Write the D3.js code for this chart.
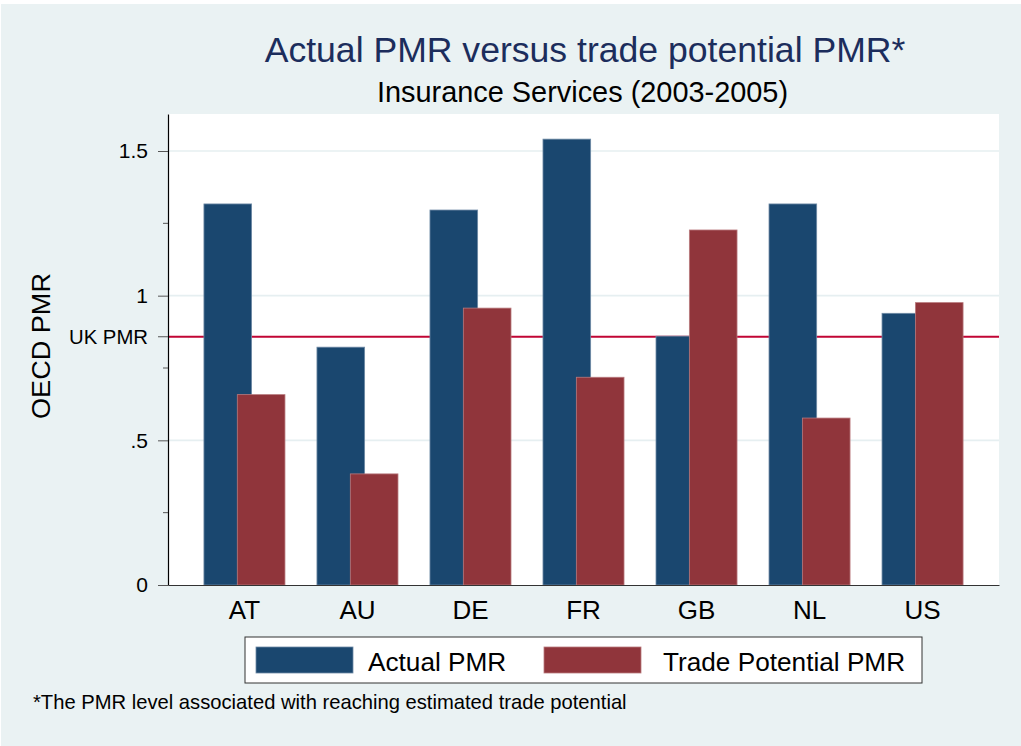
<!DOCTYPE html>
<html>
<head>
<meta charset="utf-8">
<script src="https://cdn.jsdelivr.net/npm/d3@7"></script>
<style>
  body { margin: 0; background: #fff; }
  svg { display: block; font-family: "Liberation Sans", Arial, sans-serif; }
</style>
</head>
<body>
<script>
// Data
const countries = ["AT", "AU", "DE", "FR", "GB", "NL", "US"];
const actualPMR = [1.317, 0.822, 1.296, 1.541, 0.860, 1.317, 0.939];
const tradePotentialPMR = [0.658, 0.384, 0.957, 0.718, 1.227, 0.577, 0.976];
const ukPMR = 0.858;
const seriesNames = ["Actual PMR", "Trade Potential PMR"];
const yTickValues = [0, 0.5, 1, 1.5];
const yTickLabels = ["0", ".5", "1", "1.5"];
const yMinorTicks = [0.25, 0.75, 1.25];

const W = 1021, H = 746;
const plot = { left: 168, right: 999, top: 114, bottom: 585 };
const colors = ["#1a476f", "#90353b"];

const svg = d3.select("body").append("svg")
    .attr("width", W)
    .attr("height", H);

// outer background
svg.append("rect")
    .attr("x", 1).attr("y", 4)
    .attr("width", W - 1).attr("height", H - 4)
    .attr("fill", "#eaf2f3");

// plot region
svg.append("rect")
    .attr("x", plot.left).attr("y", plot.top)
    .attr("width", plot.right - plot.left)
    .attr("height", plot.bottom - plot.top)
    .attr("fill", "#fff");

// scales
const x = d3.scaleBand()
    .domain(countries)
    .range([plot.left, plot.right])
    .paddingInner(0.283)
    .paddingOuter(0.318);

const yMax = 1.5 * (plot.bottom - plot.top) / 434;
const y = d3.scaleLinear()
    .domain([0, yMax])
    .range([plot.bottom, plot.top]);

// gridlines
svg.append("g")
  .selectAll("line")
  .data(yTickValues.filter(d => d > 0))
  .enter().append("line")
    .attr("x1", plot.left).attr("x2", plot.right)
    .attr("y1", d => y(d)).attr("y2", d => y(d))
    .attr("stroke", "#e6eff1")
    .attr("stroke-width", 1.6);

// UK PMR reference line (behind bars)
svg.append("line")
    .attr("x1", plot.left).attr("x2", plot.right)
    .attr("y1", y(ukPMR)).attr("y2", y(ukPMR))
    .attr("stroke", "#c10534")
    .attr("stroke-width", 2);

// bars: two overlapping bars per country (bargap -30%)
const barW = x.bandwidth() / 1.7;
const series = [actualPMR, tradePotentialPMR];
const strokes = ["#6f8aa5", "#b97a7e"];

series.forEach((vals, s) => {
  svg.append("g")
    .selectAll("rect")
    .data(countries.map((c, i) => ({ c, v: vals[i] })))
    .enter().append("rect")
      .attr("x", d => x(d.c) + s * 0.7 * barW)
      .attr("y", d => y(d.v))
      .attr("width", barW)
      .attr("height", d => y(0) - y(d.v))
      .attr("fill", colors[s])
      .attr("stroke", strokes[s])
      .attr("stroke-width", 0.8);
});

// y axis
const yAxis = svg.append("g")
    .attr("transform", `translate(${plot.left},0)`)
    .call(d3.axisLeft(y)
      .tickValues(yTickValues)
      .tickFormat((d, i) => yTickLabels[i])
      .tickSize(10)
      .tickPadding(10)
      .tickSizeOuter(0));
yAxis.select(".domain").attr("stroke", "#000").attr("stroke-width", 1.2);
yAxis.selectAll(".tick line").attr("stroke", "#555");
yAxis.selectAll("text")
    .attr("font-size", 21)
    .attr("fill", "#000");

// minor ticks
svg.append("g")
  .selectAll("line")
  .data(yMinorTicks)
  .enter().append("line")
    .attr("x1", plot.left - 5).attr("x2", plot.left)
    .attr("y1", d => y(d)).attr("y2", d => y(d))
    .attr("stroke", "#555");

// UK PMR tick + label
svg.append("line")
    .attr("x1", plot.left - 10).attr("x2", plot.left)
    .attr("y1", y(ukPMR)).attr("y2", y(ukPMR))
    .attr("stroke", "#555");
svg.append("text")
    .attr("x", plot.left - 20)
    .attr("y", y(ukPMR))
    .attr("dy", "0.35em")
    .attr("text-anchor", "end")
    .attr("font-size", 20)
    .attr("textLength", 79)
    .attr("lengthAdjust", "spacingAndGlyphs")
    .text("UK PMR");

// x axis
const xAxis = svg.append("g")
    .attr("transform", `translate(0,${plot.bottom})`)
    .call(d3.axisBottom(x).tickSize(0).tickSizeOuter(0).tickPadding(16));
xAxis.select(".domain").attr("stroke", "#333").attr("stroke-width", 1.2);
xAxis.selectAll("text")
    .attr("font-size", 26)
    .attr("fill", "#000");

// y axis title
svg.append("text")
    .attr("transform", "translate(50,346) rotate(-90)")
    .attr("text-anchor", "middle")
    .attr("font-size", 26)
    .attr("textLength", 146)
    .attr("lengthAdjust", "spacingAndGlyphs")
    .text("OECD PMR");

// titles
svg.append("text")
    .attr("x", 585).attr("y", 62)
    .attr("text-anchor", "middle")
    .attr("font-size", 35.6)
    .attr("fill", "#1c2d5c")
    .text("Actual PMR versus trade potential PMR*");

svg.append("text")
    .attr("x", 582.5).attr("y", 102)
    .attr("text-anchor", "middle")
    .attr("font-size", 28.9)
    .attr("fill", "#000")
    .text("Insurance Services (2003-2005)");

// legend
const legend = svg.append("g");
legend.append("rect")
    .attr("x", 245).attr("y", 637)
    .attr("width", 677).attr("height", 46)
    .attr("fill", "#fff")
    .attr("stroke", "#333")
    .attr("stroke-width", 1);

const legendX = [256, 544];
const legendTextX = [368, 663];
seriesNames.forEach((name, i) => {
  legend.append("rect")
      .attr("x", legendX[i]).attr("y", 647)
      .attr("width", 97).attr("height", 26)
      .attr("fill", colors[i])
      .attr("stroke", strokes[i])
      .attr("stroke-width", 0.8);
  legend.append("text")
      .attr("x", legendTextX[i]).attr("y", 671)
      .attr("font-size", 26.2)
      .text(name);
});

// footnote
svg.append("text")
    .attr("x", 33).attr("y", 709)
    .attr("font-size", 20.2)
    .text("*The PMR level associated with reaching estimated trade potential");
</script>
</body>
</html>
